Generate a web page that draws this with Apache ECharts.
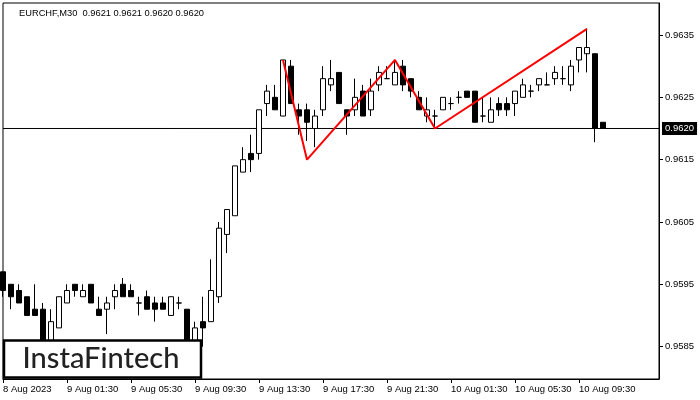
<!DOCTYPE html>
<html><head><meta charset="utf-8">
<script src="https://cdn.jsdelivr.net/npm/echarts@6/dist/echarts.min.js"></script>
<style>html,body{margin:0;padding:0;background:#fff}#c{width:700px;height:400px}</style>
</head><body><div id="c"></div>
<script>
// OHLC of EURCHF M30 bars, 8 Aug 2023 21:30 .. 10 Aug 2023 11:00
const opens  = [0.9597,0.9595,0.9594,0.9593,0.9591,0.9591,0.9585,0.9588,0.9592,0.9595,
                0.9593,0.9595,0.9591,0.9591,0.9593,0.9595,0.9594,0.9592,0.9593,0.9592,
                0.9592,0.9590,0.9592,0.9591,0.9584,0.9589,0.9589,0.9593,0.9603,0.9606,
                0.9613,0.9616,0.9616,0.9624,0.9625,0.9622,0.9630,0.9623,0.9623,0.9620,
                0.9623,0.9627,0.9629,0.9623,0.9623,0.9626,0.9623,0.9627,0.9628,0.9627,
                0.9630,0.9628,0.9625,0.9622,0.9622,0.9623,0.9624,0.9625,0.9626,0.9626,
                0.9622,0.9621,0.9624,0.9624,0.9624,0.9625,0.9626,0.9627,0.9627,0.9628,
                0.9628,0.9627,0.9631,0.9632,0.9632,0.9621];
const highs  = [0.9597,0.9595,0.9595,0.9593,0.9595,0.9592,0.9591,0.9593,0.9595,0.9595,
                0.9595,0.9595,0.9593,0.9593,0.9595,0.9596,0.9595,0.9593,0.9594,0.9593,
                0.9593,0.9593,0.9593,0.9591,0.9589,0.9593,0.9599,0.9605,0.9607,0.9614,
                0.9617,0.9619,0.9623,0.9627,0.9627,0.9631,0.9631,0.9624,0.9624,0.9623,
                0.9630,0.9631,0.9629,0.9623,0.9628,0.9627,0.9628,0.9630,0.9630,0.9631,
                0.9631,0.9628,0.9626,0.9625,0.9623,0.9625,0.9625,0.9626,0.9626,0.9626,
                0.9625,0.9625,0.9625,0.9625,0.9626,0.9628,0.9627,0.9628,0.9629,0.9630,
                0.9630,0.9631,0.9633,0.9636,0.9632,0.9621];
const lows   = [0.9593,0.9591,0.9592,0.9590,0.9590,0.9584,0.9584,0.9588,0.9592,0.9593,
                0.9593,0.9592,0.9590,0.9587,0.9591,0.9593,0.9593,0.9590,0.9591,0.9589,
                0.9591,0.9590,0.9591,0.9583,0.9583,0.9585,0.9589,0.9592,0.9600,0.9606,
                0.9613,0.9613,0.9615,0.9622,0.9623,0.9622,0.9624,0.9619,0.9618,0.9617,
                0.9622,0.9626,0.9624,0.9619,0.9622,0.9622,0.9622,0.9626,0.9628,0.9627,
                0.9626,0.9625,0.9623,0.9621,0.9620,0.9623,0.9623,0.9624,0.9625,0.9621,
                0.9621,0.9621,0.9622,0.9622,0.9622,0.9625,0.9625,0.9626,0.9627,0.9627,
                0.9627,0.9626,0.9629,0.9629,0.96178,0.9620];
const closes = [0.9594,0.9593,0.9592,0.9590,0.9590,0.9585,0.9589,0.9593,0.9594,0.9594,
                0.9594,0.9592,0.9590,0.9592,0.9594,0.9593,0.9593,0.9592,0.9591,0.9591,
                0.9591,0.9593,0.9592,0.9584,0.9588,0.9588,0.9594,0.9604,0.9607,0.9614,
                0.9615,0.9615,0.9623,0.9626,0.9623,0.9631,0.9624,0.9622,0.9621,0.9622,
                0.9628,0.9628,0.9624,0.9622,0.9625,0.9622,0.9626,0.9629,0.9628,0.9629,
                0.9627,0.9626,0.9623,0.9623,0.9622,0.9625,0.9624,0.9625,0.9625,0.9621,
                0.9622,0.9623,0.9623,0.9623,0.9626,0.9627,0.9626,0.9628,0.9627,0.9629,
                0.9628,0.9630,0.9633,0.9633,0.9620,0.9620];
const tickLabels = ["8 Aug 2023","9 Aug 01:30","9 Aug 05:30","9 Aug 09:30","9 Aug 13:30",
                    "9 Aug 17:30","9 Aug 21:30","10 Aug 01:30","10 Aug 05:30","10 Aug 09:30"];
const priceTicks = [0.9585,0.9595,0.9605,0.9615,0.9625,0.9635];
const patternIdx   = [35,38,49,54,73];
const patternPrice = [0.9631,0.9615,0.9631,0.9620,0.9636];
const lastPrice = 0.9620;
const headerText = "EURCHF,M30  0.9621 0.9621 0.9620 0.9620";
const logoText = "InstaFintech";

const slots = 83; // bar slots across the plot (incl. empty future slots)
const categories = [];
const start = Date.UTC(2023,7,8,21,30);
for (let i = 0; i < slots; i++) {
  const d = new Date(start + i*1800000);
  categories.push(d.getUTCDate()+" Aug "+String(d.getUTCHours()).padStart(2,"0")+":"+String(d.getUTCMinutes()).padStart(2,"0"));
}
const candleData = opens.map((o,i)=>[o, closes[i], lows[i], highs[i]]);
const patternData = patternIdx.map((x,k)=>[x, patternPrice[k]]);
const priceLineData = [[0, lastPrice], [slots-1, lastPrice]];
const showTick = (idx)=> idx % 8 === 0 && idx/8 < tickLabels.length;
const FONT = "Liberation Sans";

const chart = echarts.init(document.getElementById('c'), null, {renderer:'canvas'});
chart.setOption({
  animation:false,
  backgroundColor:'#fff',
  title:{text:headerText,left:14,top:4,textStyle:{fontSize:9.3,fontWeight:'normal',color:'#000',fontFamily:FONT}},
  grid:{left:3,right:41,top:3,bottom:21,show:true,borderColor:'#000',borderWidth:1,backgroundColor:'transparent'},
  xAxis:{type:'category',data:categories,boundaryGap:false,
    axisLine:{show:true,lineStyle:{color:'#000',width:1}},
    axisTick:{show:true,interval:showTick,length:4,lineStyle:{color:'#000'}},
    axisLabel:{interval:showTick,formatter:(v,idx)=>tickLabels[idx/8]||'',align:'left',margin:5,
      fontSize:9.5,color:'#000',fontFamily:FONT},
    splitLine:{show:false}},
  yAxis:{type:'value',position:'right',min:0.95798,max:0.964014,scale:true,
    axisLine:{show:true,lineStyle:{color:'#000',width:1}},
    axisTick:{show:true,customValues:priceTicks,length:4,lineStyle:{color:'#000'}},
    axisLabel:{customValues:priceTicks,formatter:v=>v.toFixed(4),margin:6,fontSize:9.5,color:'#000',fontFamily:FONT},
    splitLine:{show:false}},
  series:[
    {type:'line',data:priceLineData,symbol:'none',z:1,silent:true,lineStyle:{color:'#000',width:1},itemStyle:{color:'#000'},
      endLabel:{show:true,formatter:()=>lastPrice.toFixed(4),backgroundColor:'#000',color:'#fff',
        padding:[2,3,1,3],distance:3,fontSize:9.5,fontFamily:FONT}},
    {type:'candlestick',data:candleData,barWidth:5,clip:true,z:2,
      itemStyle:{color:'#fff',color0:'#000',borderColor:'#000',borderColor0:'#000',borderColorDoji:'#000',borderWidth:1}},
    {type:'line',data:patternData,symbol:'none',z:5,lineStyle:{color:'#ff0000',width:2},itemStyle:{color:'#ff0000'}}
  ],
  graphic:[
    {type:'rect',z:100,shape:{x:4,y:340.5,width:197,height:37},style:{fill:'#fff',stroke:'#000',lineWidth:2.5}},
    {type:'text',z:101,x:101,y:359,style:{text:logoText,fill:'#222',font:'500 29px Lato',textAlign:'center',textVerticalAlign:'middle'}}
  ]
});
</script></body></html>
